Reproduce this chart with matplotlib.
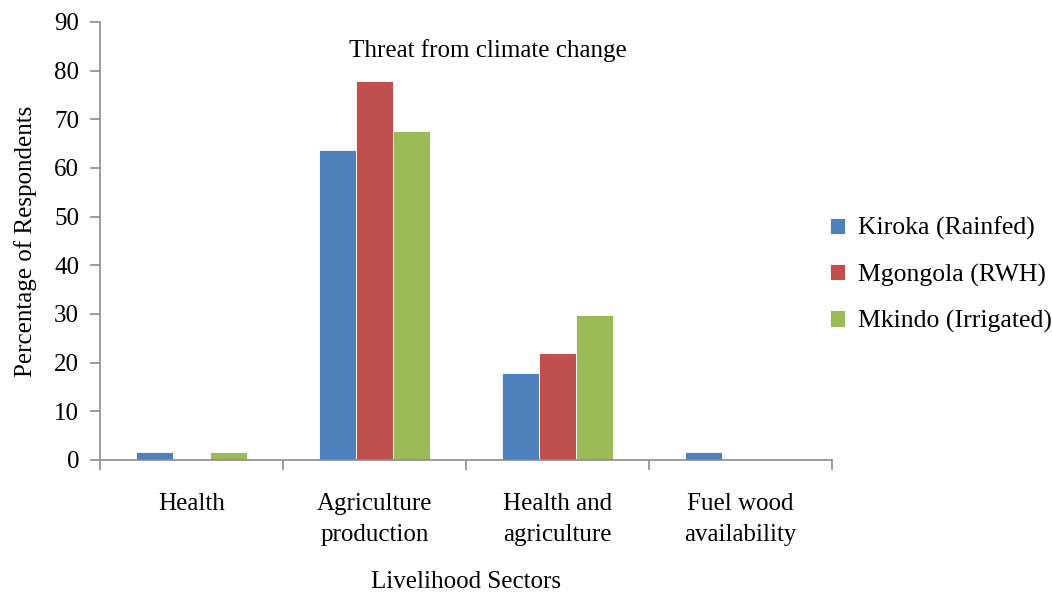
import numpy as np
import matplotlib.pyplot as plt

plt.rcParams['font.family'] = ['Liberation Serif', 'DejaVu Serif']

# data
sectors = ['Health', 'Agriculture\nproduction', 'Health and\nagriculture', 'Fuel wood\navailability']
kiroka = [1.7, 63.6, 17.8, 1.7]
mgongola = [0, 77.9, 21.9, 0]
mkindo = [1.7, 67.7, 29.7, 0]
series_names = ['Kiroka (Rainfed)', 'Mgongola (RWH)', 'Mkindo (Irrigated)']
colors = ['#4F81BD', '#C0504D', '#9BBB59']

fig = plt.figure(figsize=(10.52, 5.93), dpi=100)
ax = fig.add_axes([100 / 1052, 133 / 593, 732 / 1052, 438 / 593])

x = np.arange(len(sectors))
w = 0.204
for i, (vals, name, c) in enumerate(zip([kiroka, mgongola, mkindo], series_names, colors)):
    ax.bar(x + (i - 1) * w, vals, width=w, color=c, edgecolor='white', linewidth=0.6, label=name)

ax.set_xlim(-0.5, len(sectors) - 0.5)
ax.set_ylim(0, 90)
ax.set_yticks(range(0, 91, 10))
ax.set_xticks(x)
ax.set_xticklabels(sectors, fontsize=18, linespacing=1.5)
ax.set_xticks(np.arange(-0.5, len(sectors)), minor=True)
ax.tick_params(axis='x', which='major', length=0, pad=24)
ax.tick_params(axis='x', which='minor', length=7, width=1.2, color='#8c8c8c', direction='out')
ax.tick_params(axis='y', length=7, width=1.2, color='#8c8c8c', direction='out', labelsize=18, pad=8)

for s in ['top', 'right']:
    ax.spines[s].set_visible(False)
for s in ['left', 'bottom']:
    ax.spines[s].set_color('#8c8c8c')
    ax.spines[s].set_linewidth(1.2)

ax.set_ylabel('Percentage of Respondents', fontsize=18, labelpad=12)
ax.set_xlabel('Livelihood Sectors', fontsize=18, labelpad=18)
ax.text(0.53, 0.935, 'Threat from climate change', transform=ax.transAxes,
        ha='center', va='center', fontsize=18)

ax.legend(loc='center left', bbox_to_anchor=(830 / 1052, 1 - 275 / 593),
          bbox_transform=fig.transFigure, borderpad=0, borderaxespad=0,
          frameon=False, fontsize=18.5,
          handlelength=0.6, handleheight=0.6, handletextpad=0.5, labelspacing=0.9)

fig.savefig('out.png', dpi=100)
